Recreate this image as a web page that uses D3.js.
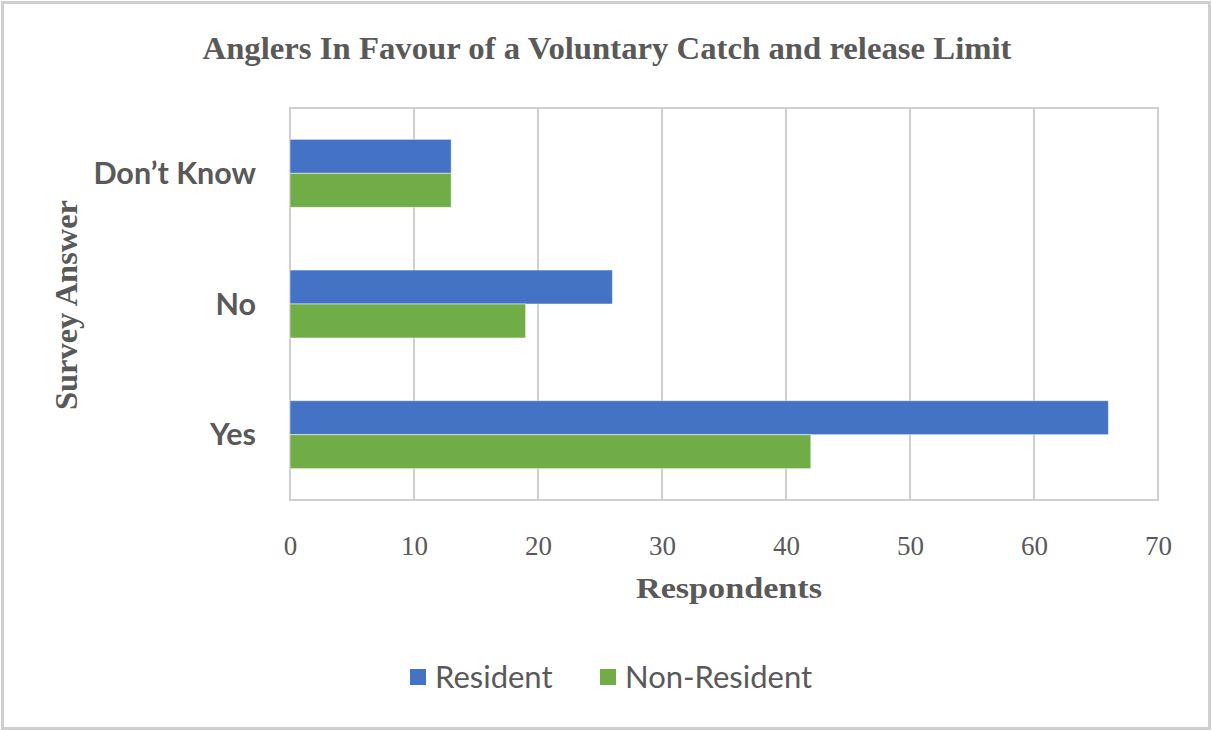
<!DOCTYPE html>
<html>
<head>
<meta charset="utf-8">
<script src="https://cdn.jsdelivr.net/npm/d3@7"></script>
<style>
  html, body { margin: 0; padding: 0; background: #fff; }
  svg { display: block; }
</style>
</head>
<body>
<svg id="chart" width="1212" height="731"></svg>
<script>
// Survey answers, top to bottom
const categories = ["Don\u2019t Know", "No", "Yes"];
const seriesNames = ["Resident", "Non-Resident"];
const residentValues = [13, 26, 66];
const nonResidentValues = [13, 19, 42];
const xTicks = [0, 10, 20, 30, 40, 50, 60, 70];
const colors = ["#4472C4", "#70AD47"];

const svg = d3.select("#chart");
const W = 1212, H = 731;
const plot = { left: 290, right: 1158, top: 108, bottom: 500 };
const serif = "'Liberation Serif', 'DejaVu Serif', serif";
const sans = "Lato, 'Open Sans', 'DejaVu Sans', sans-serif";
const textGray = "#595959";

// chart frame
svg.append("rect")
  .attr("x", 2.5).attr("y", 2.5).attr("width", W - 5).attr("height", H - 5)
  .attr("fill", "#fff").attr("stroke", "#cfcfcf").attr("stroke-width", 3);

const x = d3.scaleLinear().domain([0, 70]).range([plot.left, plot.right]);
const y = d3.scaleBand().domain(categories).range([plot.top, plot.bottom]).paddingInner(0.48).paddingOuter(0.24);
const ySub = d3.scaleBand().domain(seriesNames).range([0, y.bandwidth()]);

// vertical gridlines
svg.append("g").selectAll("line").data(xTicks).join("line")
  .attr("x1", d => x(d)).attr("x2", d => x(d))
  .attr("y1", plot.top).attr("y2", plot.bottom)
  .attr("stroke", "#cfcfcf").attr("stroke-width", 2);

// plot area border
svg.append("rect")
  .attr("x", plot.left).attr("y", plot.top)
  .attr("width", plot.right - plot.left).attr("height", plot.bottom - plot.top)
  .attr("fill", "none").attr("stroke", "#cfcfcf").attr("stroke-width", 2);

// bars
const rows = categories.map((c, i) => ({ cat: c, vals: [residentValues[i], nonResidentValues[i]] }));
const groups = svg.append("g").selectAll("g").data(rows).join("g")
  .attr("transform", d => `translate(0,${y(d.cat)})`);
groups.selectAll("rect").data(d => d.vals.map((v, j) => ({ v, s: seriesNames[j], j })))
  .join("rect")
  .attr("x", x(0))
  .attr("y", d => ySub(d.s))
  .attr("width", d => x(d.v) - x(0))
  .attr("height", ySub.bandwidth())
  .attr("fill", d => colors[d.j])
  .attr("stroke", "rgba(255,255,255,0.5)").attr("stroke-width", 1);

// x axis tick labels
const xAxis = d3.axisBottom(x).tickValues(xTicks).tickSize(0).tickPadding(0);
const gx = svg.append("g").attr("transform", `translate(0,${plot.bottom + 55})`).call(xAxis);
gx.select(".domain").remove();
gx.selectAll("text")
  .attr("dy", 0)
  .attr("font-family", serif)
  .attr("font-size", 27).attr("fill", textGray);

// y axis category labels
const yAxis = d3.axisLeft(y).tickSize(0).tickPadding(0);
const gy = svg.append("g").attr("transform", `translate(${plot.left - 34},0)`).call(yAxis);
gy.select(".domain").remove();
gy.selectAll("text")
  .attr("dy", "0.35em")
  .attr("font-family", sans)
  .attr("font-weight", "bold")
  .attr("font-size", 30.5).attr("fill", textGray);

// title
svg.append("text")
  .attr("x", 607).attr("y", 59)
  .attr("text-anchor", "middle")
  .attr("font-family", serif)
  .attr("font-weight", "bold")
  .attr("font-size", 31).attr("fill", textGray)
  .attr("textLength", 809).attr("lengthAdjust", "spacingAndGlyphs")
  .text("Anglers In Favour of a Voluntary Catch and release Limit");

// axis titles
svg.append("text")
  .attr("x", 729).attr("y", 598)
  .attr("text-anchor", "middle")
  .attr("font-family", serif)
  .attr("font-weight", "bold")
  .attr("font-size", 30).attr("fill", textGray)
  .attr("textLength", 186).attr("lengthAdjust", "spacingAndGlyphs")
  .text("Respondents");

svg.append("text")
  .attr("transform", "translate(77,305) rotate(-90)")
  .attr("text-anchor", "middle")
  .attr("font-family", serif)
  .attr("font-weight", "bold")
  .attr("font-size", 31).attr("fill", textGray)
  .attr("textLength", 210).attr("lengthAdjust", "spacingAndGlyphs")
  .text("Survey Answer");

// legend
const legendItems = [{ name: seriesNames[0], x: 410 }, { name: seriesNames[1], x: 600 }];
const lg = svg.append("g").selectAll("g").data(legendItems).join("g")
  .attr("transform", d => `translate(${d.x},669)`);
lg.append("rect").attr("width", 16).attr("height", 16).attr("fill", (d, i) => colors[i]);
lg.append("text")
  .attr("x", 25).attr("y", 8).attr("dy", "0.35em")
  .attr("font-family", sans)
  .attr("font-size", 31).attr("fill", textGray)
  .text(d => d.name);
</script>
</body>
</html>
